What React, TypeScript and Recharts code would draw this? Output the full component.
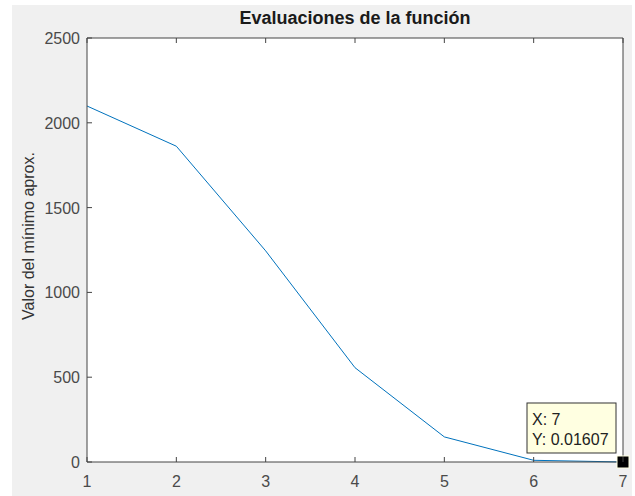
import { LineChart, Line, XAxis, YAxis, ReferenceArea, ReferenceDot } from 'recharts'

const iteraciones = [1, 2, 3, 4, 5, 6, 7]
const valores = [2099, 1862, 1245, 556, 148, 10, 0.01607]
const xTicks = [1, 2, 3, 4, 5, 6, 7]
const yTicks = [0, 500, 1000, 1500, 2000, 2500]

const data = iteraciones.map((x, i) => ({ x, y: valores[i] }))
const last = data[data.length - 1]

const FONT = '"Liberation Sans", Arial, Helvetica, sans-serif'
const AXIS = '#444'
const LABEL = '#4a4a4a'

function BottomTick({ x, y, payload }: any) {
  return (
    <g>
      <line x1={x} y1={y} x2={x} y2={y - 5} stroke={AXIS} />
      <text x={x} y={y + 25} textAnchor="middle" fill={LABEL} fontSize={16} fontFamily={FONT}>{payload.value}</text>
    </g>
  )
}

function TopTick({ x, y }: any) {
  return <line x1={x} y1={y} x2={x} y2={y + 5} stroke={AXIS} />
}

function LeftTick({ x, y, payload }: any) {
  return (
    <g>
      <line x1={x} y1={y} x2={x + 5} y2={y} stroke={AXIS} />
      <text x={x - 7} y={y + 6} textAnchor="end" fill={LABEL} fontSize={16} fontFamily={FONT}>{payload.value}</text>
    </g>
  )
}

function RightTick({ x, y }: any) {
  return <line x1={x} y1={y} x2={x - 5} y2={y} stroke={AXIS} />
}

function DataTip({ cx, cy }: any) {
  return (
    <g>
      <rect x={cx - 96} y={cy - 59} width={89} height={50} fill="#ffffe1" stroke="#333" strokeWidth={1} />
      <text x={cx - 91} y={cy - 37} fill="#222" fontSize={16} fontFamily={FONT}>X: {last.x}</text>
      <text x={cx - 91} y={cy - 17} fill="#222" fontSize={16} fontFamily={FONT}>Y: {last.y}</text>
      <rect x={cx - 6} y={cy - 6} width={12} height={12} fill="#000" stroke="#ffffe1" strokeWidth={1} />
    </g>
  )
}

export default function App() {
  return (
    <div style={{ position: 'fixed', left: 0, top: 0, width: 635, height: 496, background: '#fff', fontFamily: FONT }}>
      <div style={{ position: 'absolute', left: 12, top: 5, width: 620, height: 491, background: '#f0f0f0' }} />
      <div style={{ position: 'absolute', left: 0, top: 0 }}>
        <LineChart width={635} height={496} data={data} margin={{ top: 8, right: 11, bottom: 0, left: 0 }}>
          <XAxis dataKey="x" type="number" domain={[1, 7]} ticks={xTicks} tickSize={0} tickMargin={0}
            axisLine={{ stroke: AXIS }} tick={<BottomTick />} height={34} interval={0} />
          <XAxis xAxisId="top" orientation="top" dataKey="x" type="number" domain={[1, 7]} ticks={xTicks}
            tickSize={0} tickMargin={0} axisLine={{ stroke: AXIS }} tick={<TopTick />} height={30} interval={0} />
          <YAxis type="number" domain={[0, 2500]} ticks={yTicks} tickSize={0} tickMargin={0}
            axisLine={{ stroke: AXIS }} tick={<LeftTick />} width={87} interval={0} />
          <YAxis yAxisId="right" orientation="right" type="number" domain={[0, 2500]} ticks={yTicks}
            tickSize={0} tickMargin={0} axisLine={{ stroke: AXIS }} tick={<RightTick />} width={1} interval={0} />
          <ReferenceArea x1={1} x2={7} y1={0} y2={2500} fill="#fff" fillOpacity={1} stroke="none" />
          <Line dataKey="y" stroke="#0072BD" strokeWidth={1} dot={false} isAnimationActive={false} />
          <ReferenceDot x={last.x} y={last.y} shape={<DataTip />} ifOverflow="visible" />
        </LineChart>
      </div>
      <div style={{ position: 'absolute', left: 87, width: 536, top: 8, lineHeight: '20px', textAlign: 'center', fontSize: 18, fontWeight: 'bold', color: '#1a1a1a' }}>
        Evaluaciones de la función
      </div>
      <div style={{ position: 'absolute', left: 29, top: 236, transform: 'translate(-50%, -50%) rotate(-90deg)', whiteSpace: 'nowrap', fontSize: 16, lineHeight: '18px', color: '#333' }}>
        Valor del mínimo aprox.
      </div>
    </div>
  )
}
